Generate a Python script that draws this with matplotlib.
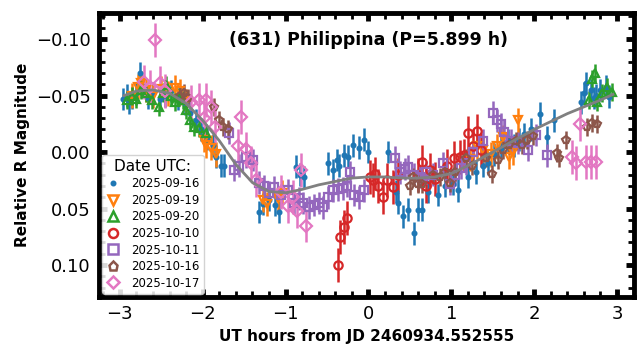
import numpy as np
import matplotlib
matplotlib.use("Agg")
import matplotlib.pyplot as plt
from matplotlib.lines import Line2D
from matplotlib.ticker import AutoMinorLocator, MultipleLocator

# --- data ---
dates = ["2025-09-16", "2025-09-19", "2025-09-20", "2025-10-10",
         "2025-10-11", "2025-10-16", "2025-10-17"]

x_0916 = [-2.96, -2.92, -2.89, -2.85, -2.80, -2.76, -2.72, -2.66, -2.60, -2.52,
          -2.45, -2.38, -2.30, -2.22, -2.15, -2.08, -2.02, -1.95, -1.88, -1.84,
          -1.78, -1.74, -1.32, -1.27, -1.20, -1.13, -1.08, -0.88, -0.83, -0.78,
          -0.49, -0.43, -0.38, -0.35, -0.30, -0.25, -0.19, -0.12, -0.06, -0.01,
          0.24, 0.33, 0.36, 0.42, 0.48, 0.55, 0.60, 0.65, 0.72, 0.84,
          0.92, 1.02, 1.08, 1.20, 1.30, 1.38, 1.44, 1.52, 1.60, 1.68,
          1.76, 1.82, 1.88, 1.96, 2.07, 2.16, 2.24, 2.57, 2.60, 2.63,
          2.68, 2.72, 2.75, 2.80, 2.87, 2.90]
y_0916 = [-0.047, -0.050, -0.044, -0.048, -0.052, -0.070, -0.058, -0.048, -0.052, -0.047,
          -0.050, -0.054, -0.047, -0.043, -0.035, -0.028, -0.020, -0.012, -0.006, 0.004,
          0.012, 0.012, 0.053, 0.046, 0.042, 0.047, 0.053, 0.013, 0.020, 0.022,
          0.010, 0.016, 0.007, 0.012, 0.003, 0.004, -0.006, -0.004, -0.011, 0.000,
          0.000, 0.035, 0.045, 0.057, 0.051, 0.072, 0.051, 0.051, 0.035, 0.038,
          0.030, 0.028, 0.034, 0.022, 0.018, 0.012, 0.010, 0.002, -0.004, -0.010,
          -0.006, -0.011, -0.016, -0.020, -0.034, -0.013, -0.028, -0.044, -0.052, -0.061,
          -0.055, -0.048, -0.050, -0.055, -0.058, -0.049]

x_0919 = [-2.86, -2.78, -2.74, -2.68, -2.60, -2.50, -2.42, -2.34, -2.28, -2.20,
          -1.99, -1.96, -1.90, -1.84, -1.27, -1.22, -1.09, -1.04, 1.22, 1.31,
          1.38, 1.48, 1.55, 1.62, 1.70, 1.74, 1.80]
y_0919 = [-0.050, -0.058, -0.061, -0.055, -0.050, -0.056, -0.052, -0.057, -0.054, -0.045,
          -0.011, -0.006, -0.004, 0.002, 0.042, 0.046, 0.041, 0.036, 0.006, -0.005,
          -0.002, 0.002, -0.005, -0.013, 0.004, 0.000, -0.028]

x_0920 = [-2.92, -2.86, -2.80, -2.74, -2.68, -2.61, -2.53, -2.48, -2.44, -2.38,
          -2.34, -2.29, -2.24, -2.20, -2.16, -2.10, -2.04, -1.96, 2.66, 2.70,
          2.73, 2.76, 2.82, 2.88, 2.94]
y_0920 = [-0.046, -0.050, -0.047, -0.055, -0.052, -0.046, -0.040, -0.052, -0.059, -0.050,
          -0.044, -0.049, -0.046, -0.037, -0.028, -0.022, -0.021, -0.017, -0.046, -0.065,
          -0.070, -0.044, -0.052, -0.058, -0.053]

x_1010 = [-0.37, -0.34, -0.30, -0.26, 0.02, 0.05, 0.08, 0.12, 0.17, 0.22,
          0.30, 0.36, 0.60, 0.65, 0.70, 0.74, 0.80, 0.95, 1.03, 1.10,
          1.15, 1.20, 1.26, 1.31, 1.36]
y_1010 = [0.100, 0.075, 0.066, 0.058, 0.022, 0.025, 0.019, 0.030, 0.040, 0.025,
          0.031, 0.020, 0.020, 0.009, 0.030, 0.016, 0.024, 0.012, 0.005, 0.004,
          0.003, -0.017, -0.005, -0.019, -0.002]

x_1011 = [-1.68, -1.62, -1.56, -1.48, -1.39, -1.32, -1.26, -1.20, -1.14, -1.06,
          -0.97, -0.90, -0.84, -0.79, -0.72, -0.66, -0.60, -0.55, -0.49, -0.43,
          -0.37, -0.31, -0.26, -0.22, -0.18, -0.12, -0.06, 0.32, 0.38, 0.44,
          0.48, 0.55, 0.62, 0.70, 0.78, 0.90, 0.98, 1.05, 1.12, 1.18,
          1.26, 1.38, 1.50, 1.55, 1.60, 1.64, 1.72, 1.80, 1.92, 2.02, 2.15]
y_1011 = [-0.017, 0.016, 0.012, 0.004, 0.007, 0.027, 0.030, 0.036, 0.031, 0.038,
          0.034, 0.045, 0.041, 0.045, 0.049, 0.047, 0.045, 0.049, 0.040, 0.034,
          0.033, 0.032, 0.030, 0.018, 0.038, 0.040, 0.034, 0.005, 0.018, 0.015,
          0.013, 0.020, 0.022, 0.018, 0.020, 0.010, 0.028, 0.020, 0.014, 0.010,
          0.000, -0.010, -0.035, -0.028, -0.025, -0.018, -0.010, -0.008, -0.002, -0.015, 0.003]

x_1016 = [-2.28, -2.23, -2.18, -1.87, -1.80, -1.75, -1.70, 0.50, 0.54, 0.60,
          0.65, 0.78, 0.86, 0.92, 0.98, 1.04, 1.18, 1.25, 1.42, 1.49,
          1.56, 1.62, 1.70, 1.78, 1.85, 1.91, 1.98, 2.27, 2.30, 2.39,
          2.64, 2.70, 2.76]
y_1016 = [-0.050, -0.052, -0.048, -0.040, -0.028, -0.022, -0.020, 0.030, 0.022, 0.028,
          0.028, 0.020, 0.022, 0.018, 0.027, 0.018, 0.005, 0.012, 0.005, 0.019,
          0.007, -0.002, -0.006, -0.010, -0.006, -0.011, -0.014, 0.001, 0.005, -0.011,
          -0.022, -0.026, -0.025]

x_1017 = [-2.71, -2.64, -2.58, -2.52, -2.46, -2.14, -2.05, -1.99, -1.96, -1.90,
          -1.85, -1.54, -1.57, -1.48, -1.42, -1.36, -1.05, -0.97, -0.91, -0.86,
          -0.82, -0.76, 2.46, 2.50, 2.55, 2.63, 2.69, 2.75]
y_1017 = [-0.062, -0.058, -0.099, -0.061, -0.054, -0.044, -0.046, -0.030, -0.046, -0.040,
          -0.022, -0.031, -0.005, -0.003, 0.010, 0.025, 0.035, 0.048, 0.040, 0.052,
          0.016, 0.065, 0.004, 0.010, -0.025, 0.009, 0.009, 0.009]

# typical 1-sigma error per night
errs = [0.010, 0.011, 0.008, 0.015, 0.010, 0.008, 0.015]

# fitted light curve (grey line)
fit_x = [-2.95, -2.8, -2.6, -2.4, -2.2, -2.0, -1.8, -1.6, -1.4, -1.2, -1.0,
         -0.8, -0.6, -0.4, -0.2, 0.0, 0.2, 0.4, 0.6, 0.8, 1.0, 1.2, 1.4,
         1.6, 1.8, 2.0, 2.2, 2.4, 2.6, 2.8, 2.95]
fit_y = [-0.050, -0.054, -0.055, -0.052, -0.043, -0.028, -0.010, 0.011, 0.027,
         0.035, 0.036, 0.033, 0.029, 0.026, 0.023, 0.022, 0.022, 0.023, 0.023,
         0.022, 0.019, 0.012, 0.004, -0.004, -0.012, -0.020, -0.027, -0.034,
         -0.040, -0.046, -0.051]

xs = [x_0916, x_0919, x_0920, x_1010, x_1011, x_1016, x_1017]
ys = [y_0916, y_0919, y_0920, y_1010, y_1011, y_1016, y_1017]
markers = [".", "v", "^", "o", "s", "p", "D"]
colors = ["C0", "C1", "C2", "C3", "C4", "C5", "C6"]

fig, ax = plt.subplots(figsize=(6.4, 3.45), dpi=100)
fig.subplots_adjust(left=0.155, right=0.99, top=0.962, bottom=0.14)

handles = []
for x, y, e, m, c, lab in zip(xs, ys, errs, markers, colors, dates):
    filled = m == "."
    ax.errorbar(x, y, yerr=e, fmt=m, color=c, ecolor=c, elinewidth=1.8,
                capsize=0, ms=5.5 if filled else 6,
                mfc=c if filled else "none", mec=c, mew=1.6)
    handles.append(Line2D([], [], ls="none", marker=m, color=c,
                          ms=5 if filled else 6.5, mfc=c if filled else "none",
                          mew=1.8, label=lab))

ax.plot(fit_x, fit_y, color="gray", lw=2, zorder=5)

ax.set_xlim(-3.25, 3.2)
ax.set_ylim(0.128, -0.123)
ax.xaxis.set_major_locator(MultipleLocator(1))
ax.yaxis.set_major_locator(MultipleLocator(0.05))
ax.xaxis.set_minor_locator(AutoMinorLocator())
ax.yaxis.set_minor_locator(AutoMinorLocator())
ax.yaxis.set_major_formatter(plt.FuncFormatter(lambda v, p: f"{v:.2f}".replace("-", "\u2212")))

for s in ax.spines.values():
    s.set_linewidth(3.5)
ax.tick_params(which="major", direction="in", length=6, width=3.5,
               top=True, right=True, labelsize=13, pad=6)
ax.tick_params(which="minor", direction="in", length=4, width=2,
               top=True, right=True)

ax.set_xlabel("UT hours from JD 2460934.552555", fontsize=11, fontweight="bold")
ax.set_ylabel("Relative R Magnitude", fontsize=11, fontweight="bold")
ax.text(0.504, 0.905, "(631) Philippina (P=5.899 h)", transform=ax.transAxes,
        ha="center", va="center", fontsize=12.5, fontweight="bold")

leg = ax.legend(handles=handles, title="Date UTC:", loc="lower left",
                fontsize=8.5, title_fontsize=11, borderaxespad=0.25,
                handlelength=1.2, handletextpad=0.9, labelspacing=0.3,
                borderpad=0.35, framealpha=0.85)

plt.savefig("out.png", dpi=100)
plt.close()
